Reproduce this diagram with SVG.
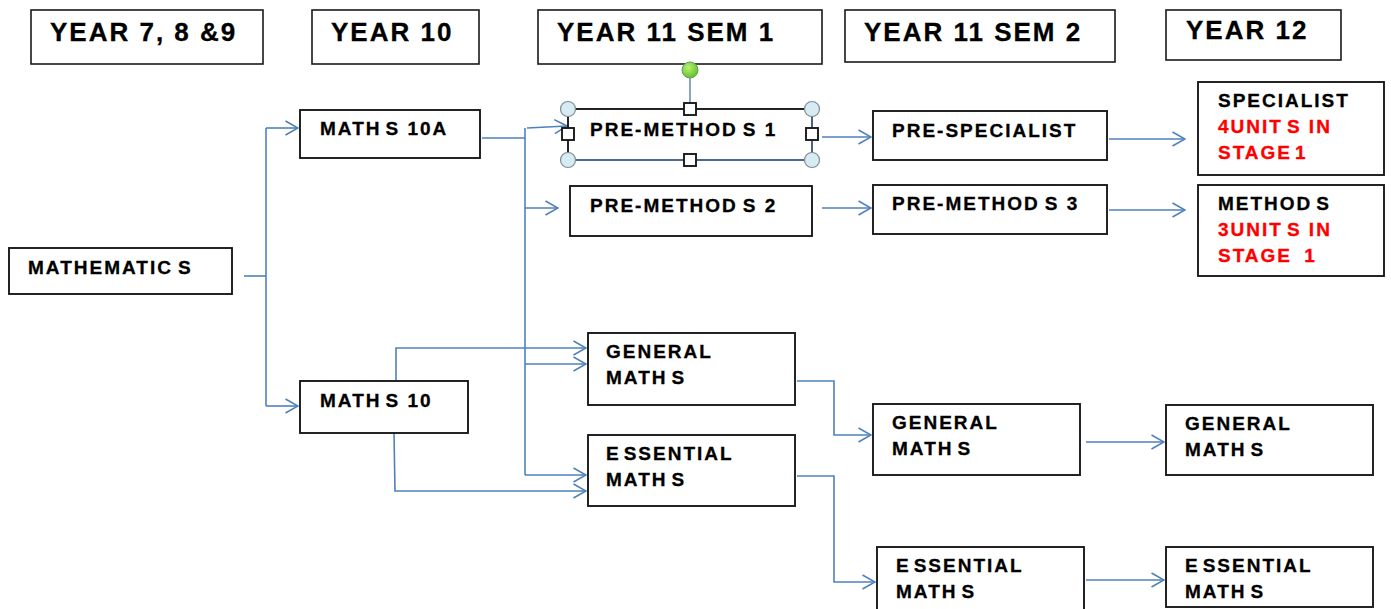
<svg xmlns="http://www.w3.org/2000/svg" width="1391" height="609" viewBox="0 0 1391 609">
  <style>
    .hdr rect { fill: #fff; stroke: #1a1a1a; stroke-width: 1.6; }
    .hdr text { font-family: "Liberation Sans", Arial, sans-serif; font-weight: bold; font-size: 26px; letter-spacing: 2px; fill: #000; stroke: #000; stroke-width: 0.3; }
    .box rect { fill: #fff; stroke: #1a1a1a; stroke-width: 1.9; }
    .box text { font-family: "Liberation Sans", Arial, sans-serif; font-weight: bold; font-size: 19px; letter-spacing: 2px; fill: #000; stroke: #000; stroke-width: 0.3; }
    .box text.red { fill: #ff0000; stroke: #ff0000; }
    #connectors path { fill: none; stroke: #4f81bd; stroke-width: 1.6; }
    .sel-line { fill: none; stroke: #5b7fb0; stroke-width: 1.4; }
    .sel-circ { fill: #d6ebf2; stroke: #7f8c95; stroke-width: 1.2; }
    .sel-sq { fill: #bcdaf0; stroke: #7f98b0; stroke-width: 1.2; }
  </style>
  <defs>
    <marker id="arrow" viewBox="0 0 14 16" refX="13.5" refY="8" markerWidth="14" markerHeight="16" markerUnits="userSpaceOnUse" orient="auto">
      <path d="M1,1 L13.5,8 L1,15" fill="none" stroke="#4f81bd" stroke-width="1.6"/>
    </marker>
    <radialGradient id="rotGrad" cx="0.4" cy="0.35" r="0.7">
      <stop offset="0" stop-color="#b8f07a"/>
      <stop offset="1" stop-color="#5cbf1e"/>
    </radialGradient>
  </defs>

  <rect width="1391" height="609" fill="#fff"/>

  <!-- column headers -->
  <g id="hdr-y789" class="hdr"><rect x="31" y="10" width="232" height="54"/><text x="50" y="41">YEAR 7, 8 &amp;9</text></g>
  <g id="hdr-y10" class="hdr"><rect x="312" y="10" width="167" height="54"/><text x="331" y="41">YEAR 10</text></g>
  <g id="hdr-y11s1" class="hdr"><rect x="538" y="10" width="284" height="54"/><text x="557" y="41">YEAR 11 SEM 1</text></g>
  <g id="hdr-y11s2" class="hdr"><rect x="845" y="10" width="270" height="52"/><text x="864" y="41">YEAR 11 SEM 2</text></g>
  <g id="hdr-y12" class="hdr"><rect x="1166" y="10" width="175" height="50"/><text x="1186" y="39">YEAR 12</text></g>

  <!-- connectors -->
  <g id="connectors">
    <!-- Mathematics splits to Year 10 courses -->
    <path d="M244,276 H266"/>
    <path d="M266,128 V406"/>
    <path d="M266,128 H298" marker-end="url(#arrow)"/>
    <path d="M266,406 H298" marker-end="url(#arrow)"/>
    <!-- Maths 10A trunk -->
    <path d="M482,138 H525"/>
    <path d="M525,128 V475"/>
    <path d="M527,128 L567,126" marker-end="url(#arrow)"/>
    <path d="M525,208 H558" marker-end="url(#arrow)"/>
    <path d="M525,364 H586" marker-end="url(#arrow)"/>
    <path d="M525,475 H586" marker-end="url(#arrow)"/>
    <!-- Maths 10 branches -->
    <path d="M396,381 V348 H586" marker-end="url(#arrow)"/>
    <path d="M394,433 L395,491 H586" marker-end="url(#arrow)"/>
    <!-- Year 11 semester 1 to semester 2 -->
    <path d="M822,137 H871" marker-end="url(#arrow)"/>
    <path d="M822,208 H871" marker-end="url(#arrow)"/>
    <path d="M797,381 H834 V435 H871" marker-end="url(#arrow)"/>
    <path d="M797,476 H834 V582 H875" marker-end="url(#arrow)"/>
    <!-- Year 11 semester 2 to Year 12 -->
    <path d="M1109,139 H1185" marker-end="url(#arrow)"/>
    <path d="M1109,210 H1185" marker-end="url(#arrow)"/>
    <path d="M1086,442 H1164" marker-end="url(#arrow)"/>
    <path d="M1086,580 H1164" marker-end="url(#arrow)"/>
  </g>

  <!-- course boxes -->
  <g id="mathematics" class="box"><rect x="9" y="248" width="223" height="46"/><text x="28" y="274">MATHEMATIC<tspan dx="5">S</tspan></text></g>
  <g id="maths10a" class="box"><rect x="300" y="110" width="180" height="48"/><text x="320" y="135">MATH<tspan dx="4">S</tspan> 10A</text></g>
  <g id="maths10" class="box"><rect x="300" y="381" width="168" height="52"/><text x="320" y="407">MATH<tspan dx="4">S</tspan> 10</text></g>

  <g id="premethods1" class="box">
    <rect x="568" y="109" width="244" height="51"/>
    <text x="590" y="136">PRE-METHOD<tspan dx="5">S</tspan> 1</text>
    <!-- selection frame and handles -->
    <path class="sel-line" d="M690,78 V104"/>
    <path class="sel-line" d="M812,109 V160 H568"/>
    <circle cx="690" cy="70" r="8" fill="url(#rotGrad)" stroke="#6a9a5a" stroke-width="1"/>
    <circle class="sel-circ" cx="568" cy="109" r="7.5"/>
    <circle class="sel-circ" cx="812" cy="109" r="7.5"/>
    <circle class="sel-circ" cx="568" cy="160" r="7.5"/>
    <circle class="sel-circ" cx="812" cy="160" r="7.5"/>
    <rect class="sel-sq" x="684" y="103" width="12" height="12"/>
    <rect class="sel-sq" x="684" y="154" width="12" height="12"/>
    <rect class="sel-sq" x="562" y="128" width="12" height="12"/>
    <rect class="sel-sq" x="806" y="128" width="12" height="12"/>
  </g>
  <g id="premethods2" class="box"><rect x="570" y="186" width="242" height="50"/><text x="590" y="212">PRE-METHOD<tspan dx="5">S</tspan> 2</text></g>
  <g id="general11s1" class="box"><rect x="588" y="333" width="207" height="72"/><text x="606" y="358">GENERAL</text><text x="606" y="384">MATH<tspan dx="4">S</tspan></text></g>
  <g id="essential11s1" class="box"><rect x="588" y="435" width="207" height="71"/><text x="606" y="460">E<tspan dx="3">SSENTIAL</tspan></text><text x="606" y="486">MATH<tspan dx="4">S</tspan></text></g>

  <g id="prespecialist" class="box"><rect x="873" y="111" width="234" height="49"/><text x="892" y="137">PRE-SPECIALIST</text></g>
  <g id="premethods3" class="box"><rect x="873" y="185" width="234" height="49"/><text x="892" y="210">PRE-METHOD<tspan dx="5">S</tspan> 3</text></g>
  <g id="general11s2" class="box"><rect x="873" y="404" width="207" height="71"/><text x="892" y="429">GENERAL</text><text x="892" y="455">MATH<tspan dx="4">S</tspan></text></g>
  <g id="essential11s2" class="box"><rect x="877" y="547" width="207" height="70"/><text x="896" y="572">E<tspan dx="3">SSENTIAL</tspan></text><text x="896" y="598">MATH<tspan dx="4">S</tspan></text></g>

  <g id="specialist" class="box"><rect x="1198" y="82" width="186" height="93"/><text x="1218" y="107">SPECIALIST</text><text class="red" x="1218" y="133">4UNIT<tspan dx="4">S</tspan> IN</text><text class="red" x="1218" y="159">STAGE<tspan dx="3">1</tspan></text></g>
  <g id="methods" class="box"><rect x="1198" y="185" width="186" height="91"/><text x="1218" y="210">METHOD<tspan dx="4">S</tspan></text><text class="red" x="1218" y="236">3UNIT<tspan dx="4">S</tspan> IN</text><text class="red" x="1218" y="262">STAGE <tspan dx="5">1</tspan></text></g>
  <g id="general12" class="box"><rect x="1166" y="405" width="207" height="70"/><text x="1185" y="430">GENERAL</text><text x="1185" y="456">MATH<tspan dx="4">S</tspan></text></g>
  <g id="essential12" class="box"><rect x="1166" y="547" width="207" height="60"/><text x="1185" y="572">E<tspan dx="3">SSENTIAL</tspan></text><text x="1185" y="598">MATH<tspan dx="4">S</tspan></text></g>
</svg>
